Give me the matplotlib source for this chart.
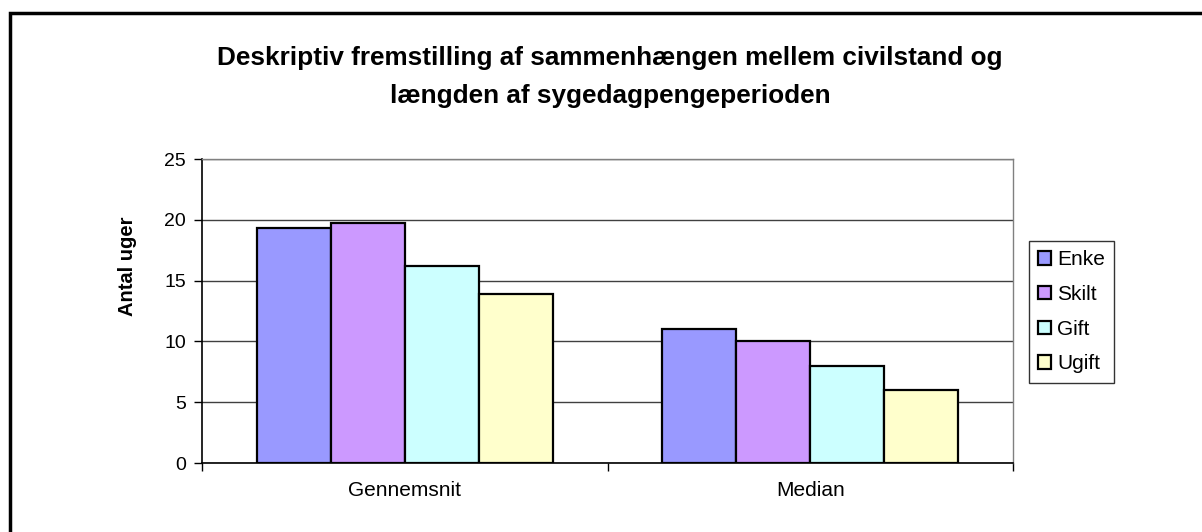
import matplotlib.pyplot as plt
import numpy as np
from matplotlib.patches import Rectangle

plt.rcParams['font.family'] = ['Liberation Sans', 'DejaVu Sans']

# --- Data ---
categories = ["Gennemsnit", "Median"]
series_names = ["Enke", "Skilt", "Gift", "Ugift"]
enke = [19.3, 11.0]
skilt = [19.7, 10.0]
gift = [16.2, 8.0]
ugift = [13.9, 6.0]

title_lines = ["Deskriptiv fremstilling af sammenhængen mellem civilstand og",
               "længden af sygedagpengeperioden"]

series = [enke, skilt, gift, ugift]
colors = ["#9999FF", "#CC99FF", "#CCFFFF", "#FFFFCC"]

W, H = 1202, 532
fig = plt.figure(figsize=(W / 100, H / 100), dpi=100)

# outer chart border (left/top visible, rest runs off the image)
fig.patches.append(Rectangle((10 / W, -0.1), 1.2, 1 - 13 / H + 0.1, transform=fig.transFigure,
                             fill=False, edgecolor="black", lw=2.5, zorder=0))

ax = fig.add_axes([202 / W, 1 - 463 / H, (1013 - 202) / W, (463 - 159) / H])

x = np.arange(len(categories))
bar_w = 0.1825
for i in range(len(series)):
    offset = (i - 1.5) * bar_w
    ax.bar(x + offset, series[i], width=bar_w, color=colors[i], edgecolor="black",
           linewidth=1.6, label=series_names[i], zorder=3)

ax.set_xlim(-0.5, 1.5)
ax.set_ylim(0, 25)
ax.set_yticks([0, 5, 10, 15, 20, 25])
ax.yaxis.grid(True, color="#404040", lw=1, zorder=0)

ax.set_xticks(x)
ax.set_xticklabels(categories, fontsize=15)
ax.set_xticks([-0.5, 0.5, 1.5], minor=True)
ax.tick_params(axis="x", which="major", length=0, pad=13)
ax.tick_params(axis="x", which="minor", length=6, direction="out", width=1)
ax.tick_params(axis="y", length=5.5, width=1, direction="out", labelsize=14, pad=6)

for s in ["left", "bottom"]:
    ax.spines[s].set_color("black")
    ax.spines[s].set_linewidth(1.2)
for s in ["top", "right"]:
    ax.spines[s].set_color("#808080")
    ax.spines[s].set_linewidth(1)

ax.set_ylabel("Antal uger", fontsize=14.5, fontweight="bold")
ax.yaxis.set_label_coords(137 / W, 0.5, transform=fig.transFigure)

# title: fit font so the first line spans about 786 px like the reference
t = fig.text(0, 0, title_lines[0], fontsize=10, fontweight="bold")
fig.canvas.draw()
w10 = t.get_window_extent().width
t.remove()
title_size = 10 * 786 / w10
fig.text(610 / W, 1 - 65 / H, title_lines[0], ha="center", va="baseline",
         fontsize=title_size, fontweight="bold")
fig.text(610 / W, 1 - 103 / H, title_lines[1], ha="center", va="baseline",
         fontsize=title_size, fontweight="bold")

leg = ax.legend(loc="upper left", bbox_to_anchor=(1029 / W, 1 - 241 / H), bbox_transform=fig.transFigure,
                fontsize=15, frameon=True, fancybox=False, edgecolor="black",
                handlelength=0.6, handleheight=0.6, handletextpad=0.3, labelspacing=0.75,
                borderpad=0.45, borderaxespad=0)
leg.get_frame().set_linewidth(1)

fig.savefig("out.png", dpi=100)
